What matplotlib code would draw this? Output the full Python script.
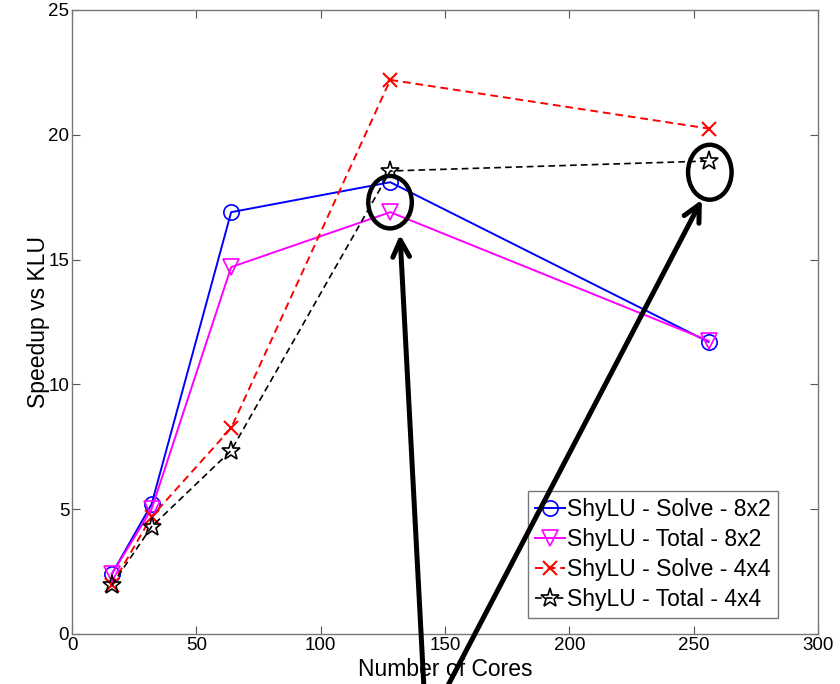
import matplotlib
matplotlib.use("Agg")
import matplotlib.pyplot as plt
from matplotlib.patches import Ellipse

plt.rcParams['font.family'] = ['Liberation Sans', 'DejaVu Sans']

cores = [16, 32, 64, 128, 256]
solve_8x2 = [2.4, 5.2, 16.9, 18.1, 11.7]
total_8x2 = [2.4, 5.0, 14.7, 16.9, 11.75]
solve_4x4 = [1.95, 4.7, 8.25, 22.2, 20.25]
total_4x4 = [1.95, 4.3, 7.35, 18.55, 18.95]
labels = ["ShyLU - Solve - 8x2", "ShyLU - Total - 8x2",
          "ShyLU - Solve - 4x4", "ShyLU - Total - 4x4"]
xticks = [0, 50, 100, 150, 200, 250, 300]
yticks = [0, 5, 10, 15, 20, 25]

fig = plt.figure(figsize=(8.4, 6.84), dpi=100)
ax = fig.add_axes([72/840, 50/684, 746/840, 624/684])

ax.plot(cores, solve_8x2, color='blue', lw=1.4, marker='o', ms=11,
        mfc='none', mec='blue', mew=1.2, label=labels[0])
ax.plot(cores, total_8x2, color='magenta', lw=1.4, marker='v', ms=12,
        mfc='none', mec='magenta', mew=1.2, label=labels[1])
ax.plot(cores, solve_4x4, color='red', lw=1.4, ls='--', dashes=(4, 2.5),
        marker='x', ms=10, mew=1.5, label=labels[2])
ax.plot(cores, total_4x4, color='black', lw=1.2, ls='--', dashes=(4, 2.5),
        marker='*', ms=14, mfc='none', mec='black', mew=1.2, label=labels[3])

ax.set_xlim(0, 300)
ax.set_ylim(0, 25)
ax.set_xticks(xticks)
ax.set_yticks(yticks)
ax.tick_params(direction='in', length=6, width=0.8, color='#555555',
               labelsize=13.5, top=True, right=True, pad=2)
for s in ax.spines.values():
    s.set_color('#777777')
    s.set_linewidth(1.0)
ax.set_xlabel("Number of Cores", fontsize=16.5, labelpad=3)
ax.set_ylabel("Speedup vs KLU", fontsize=16.5, labelpad=-1)

leg = ax.legend(loc='lower right', bbox_to_anchor=(0.946, 0.026),
                borderaxespad=0, fontsize=16.5, handlelength=1.3,
                handletextpad=0.1, labelspacing=0.3, borderpad=0.3,
                fancybox=False, framealpha=1, edgecolor='#777777')
leg.get_frame().set_linewidth(1.0)

# annotation ellipses and arrows
ax.add_patch(Ellipse((127.9, 17.3), 17.5, 2.1, fill=False, lw=3.2,
                     ec='black', zorder=5, clip_on=False))
ax.add_patch(Ellipse((256.5, 18.5), 17.5, 2.2, fill=False, lw=3.2,
                     ec='black', zorder=5, clip_on=False))
ax.annotate("", xy=(131.9, 16.0), xytext=(141.5, -2.1),
            arrowprops=dict(arrowstyle='->', lw=3.6, color='black',
                            mutation_scale=30, shrinkA=0, shrinkB=0),
            annotation_clip=False, zorder=6)
ax.annotate("", xy=(253.3, 17.4), xytext=(151.0, -2.1),
            arrowprops=dict(arrowstyle='->', lw=3.6, color='black',
                            mutation_scale=30, shrinkA=0, shrinkB=0),
            annotation_clip=False, zorder=6)

fig.savefig("out.png", dpi=100)
